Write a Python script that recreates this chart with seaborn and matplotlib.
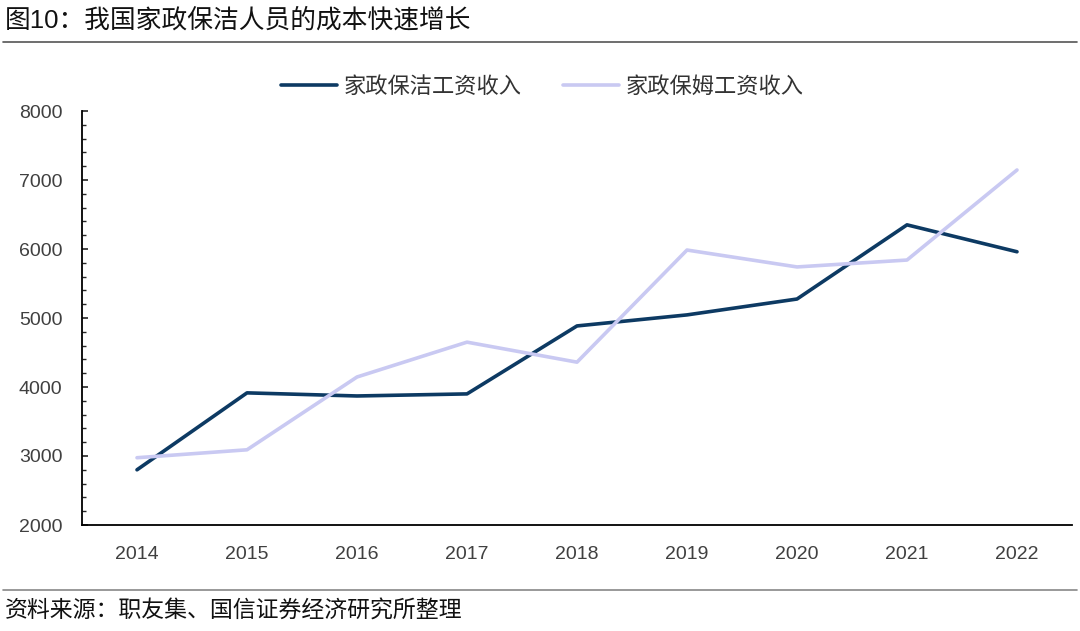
import matplotlib
matplotlib.use("Agg")
import matplotlib.pyplot as plt
from matplotlib.ticker import MultipleLocator
import seaborn as sns
import pandas as pd

years = ["2014", "2015", "2016", "2017", "2018", "2019", "2020", "2021", "2022"]
cleaning = [2800, 3915, 3870, 3900, 4885, 5045, 5275, 6350, 5960]
nanny = [2975, 3090, 4145, 4650, 4360, 5985, 5740, 5840, 7145]
series_names = ["家政保洁工资收入", "家政保姆工资收入"]
title = "图10：我国家政保洁人员的成本快速增长"
source = "资料来源：职友集、国信证券经济研究所整理"

sns.set_theme(style="white")
plt.rcParams["font.family"] = ["Liberation Sans", "Noto Sans CJK SC", "DejaVu Sans"]

df = pd.DataFrame({
    "year": list(range(len(years))) * 2,
    "value": cleaning + nanny,
    "series": [series_names[0]] * len(years) + [series_names[1]] * len(years),
})

fig = plt.figure(figsize=(10.8, 6.31), dpi=100)
ax = fig.add_axes([82 / 1080, 1 - 525 / 631, (1072 - 82) / 1080, (525 - 111) / 631])

palette = {series_names[0]: "#0d3a63", series_names[1]: "#c9c9f2"}
sns.lineplot(data=df, x="year", y="value", hue="series", palette=palette,
             linewidth=2.6, ax=ax, legend=True)

ax.set_xlim(-0.5, len(years) - 0.5)
ax.set_ylim(2000, 8000)
ax.set_xticks(range(len(years)))
ax.set_xticklabels(years)
ax.yaxis.set_major_locator(MultipleLocator(1000))
ax.yaxis.set_minor_locator(MultipleLocator(200))
ax.set_xlabel("")
ax.set_ylabel("")

for s in ["top", "right"]:
    ax.spines[s].set_visible(False)
for s in ["left", "bottom"]:
    ax.spines[s].set_color("#000000")
    ax.spines[s].set_linewidth(1.3)

ax.tick_params(axis="y", which="major", direction="in", length=4, width=1.2,
               left=True, labelsize=14, labelcolor="#404040", pad=14)
ax.tick_params(axis="y", which="minor", direction="in", length=3, width=1.0, left=True)
ax.tick_params(axis="x", which="both", bottom=False, labelsize=14,
               labelcolor="#404040", pad=9)

leg = ax.legend(loc="upper center", bbox_to_anchor=(0.465, 1.13), ncol=2,
                frameon=False, fontsize=16, handlelength=2.5, columnspacing=1.9,
                handletextpad=0.3)
for t in leg.get_texts():
    t.set_color("#333333")

fig.text(5 / 1080, 1 - 20 / 631, title, fontsize=18.5, va="center", ha="left",
         color="#111111")
fig.add_artist(plt.Line2D([3 / 1080, 1077 / 1080], [1 - 42 / 631, 1 - 42 / 631],
                          color="#555555", linewidth=1.2))
fig.add_artist(plt.Line2D([3 / 1080, 1077 / 1080], [1 - 590 / 631, 1 - 590 / 631],
                          color="#888888", linewidth=1.2))
fig.text(5 / 1080, 1 - 611 / 631, source, fontsize=16.5, va="center", ha="left",
         color="#111111")

fig.savefig("out.png", dpi=100)
